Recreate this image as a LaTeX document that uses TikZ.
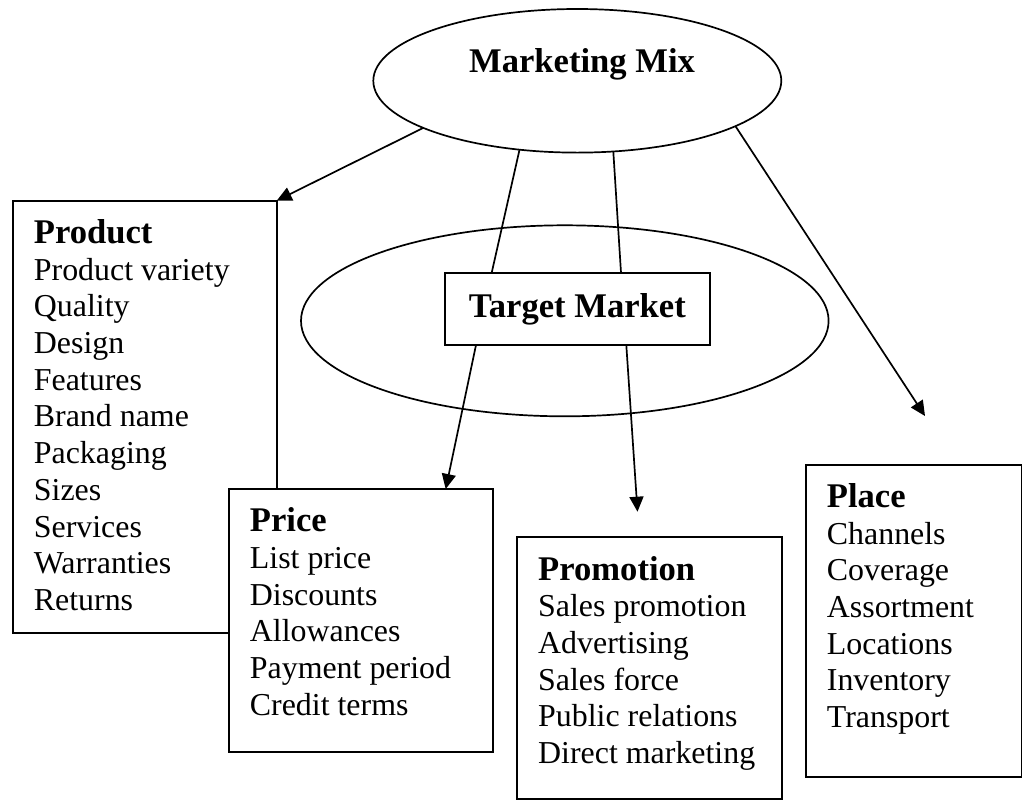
\documentclass[tikz,border=0pt]{standalone}
\usepackage{fontspec}
\setmainfont{Liberation Serif}
\usetikzlibrary{arrows.meta,shapes.geometric}

\newcommand\mixhead{\fontsize{34.6}{40}\selectfont\bfseries}
\newcommand\mixitem{\fontsize{31.9}{36.7}\selectfont}

\tikzset{
  conn/.style={line width=1.7pt},
  arr/.style={conn, -{Triangle[length=15pt,width=14pt]}},
  box/.style={draw, line width=1.7pt, fill=white, rectangle, inner sep=0pt, outer sep=0pt},
  oval/.style={draw, ellipse, line width=1.7pt, inner sep=0pt, outer sep=0pt},
  head/.style={font=\mixhead, anchor=base west, inner sep=0pt},
  item/.style={font=\mixitem, anchor=base west, inner sep=0pt},
}

\begin{document}
\begin{tikzpicture}[x=1pt, y=-1pt]
\useasboundingbox (0,0) rectangle (1024,801);

% central ovals
\node[oval, minimum width=408pt, minimum height=143.6pt] (mm) at (577.3,80.8) {};
\node[font=\mixhead, anchor=base, inner sep=0pt] (mmtext) at (582,72.7) {Marketing Mix};
\node[oval, minimum width=527.6pt, minimum height=191pt] (tme) at (564.8,320.8) {};

% Product
\node[box, minimum width=264pt, minimum height=432pt] (prod) at (144.7,416.7) {};
\node[head] (prodhead) at ([shift={(21,42.7)}]prod.north west) {Product};
\foreach [count=\i] \t in {Product variety, Quality, Design, Features, Brand name,
    Packaging, Sizes, Services, Warranties, Returns}
  \node[item] (prod\i) at ([shift={(21,{42.7+36.7*\i})}]prod.north west) {\t};

% Price
\node[box, minimum width=264.6pt, minimum height=263.3pt] (price) at (361,620.65) {};
\node[head] (pricehead) at ([shift={(21,42.7)}]price.north west) {Price};
\foreach [count=\i] \t in {List price, Discounts, Allowances, Payment period, Credit terms}
  \node[item] (price\i) at ([shift={(21,{42.7+36.7*\i})}]price.north west) {\t};

% Promotion
\node[box, minimum width=264.7pt, minimum height=262.6pt] (promo) at (649.35,668) {};
\node[head] (promohead) at ([shift={(21,43.3)}]promo.north west) {Promotion};
\foreach [count=\i] \t in {Sales promotion, Advertising, Sales force, Public relations, Direct marketing}
  \node[item] (promo\i) at ([shift={(21,{43.3+36.7*\i})}]promo.north west) {\t};

% Place
\node[box, minimum width=215.8pt, minimum height=311.7pt] (place) at (913.6,620.85) {};
\node[head] (placehead) at ([shift={(21,42.3)}]place.north west) {Place};
\foreach [count=\i] \t in {Channels, Coverage, Assortment, Locations, Inventory, Transport}
  \node[item] (place\i) at ([shift={(21,{42.3+36.7*\i})}]place.north west) {\t};

% Target Market box
\node[box, font=\mixhead, minimum width=264.7pt, minimum height=72.3pt] (tm) at (577.35,308.85) {Target Market};

% free arrow ends
\coordinate (promoend) at (637.5,511.7);
\coordinate (placeend) at (925,416);

% connectors
\draw[arr] (mm.-163) -- (prod.north east);
\draw[conn] (mm.-130) -- ([xshift=-85.65pt]tm.north);
\draw[conn] (mm.-63.6) -- ([xshift=43.65pt]tm.north);
\draw[arr] (mm.-16.9) -- (placeend);
\draw[arr] ([xshift=-101.35pt]tm.south) -- ([xshift=84.7pt]price.north);
\draw[arr] ([xshift=48.95pt]tm.south) -- (promoend);
\end{tikzpicture}
\end{document}
